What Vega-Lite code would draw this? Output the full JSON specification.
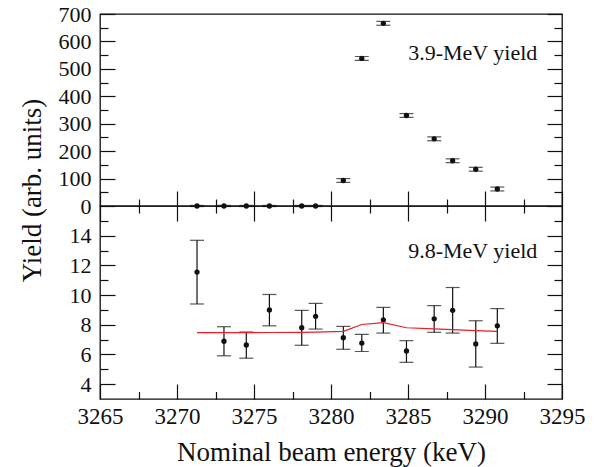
{
  "$schema": "https://vega.github.io/schema/vega-lite/v6.json",
  "padding": {"left": 17, "top": 2, "right": 5, "bottom": 5},
  "spacing": 0,
  "bounds": "flush",
  "datasets": {
    "scan": [
      {"E": 3271.3, "y39": 0, "lo39": -2, "hi39": 2, "y98": 11.55, "lo98": 9.4, "hi98": 13.69, "fit": 7.47},
      {"E": 3273.05, "y39": 0, "lo39": -2, "hi39": 2, "y98": 6.89, "lo98": 5.91, "hi98": 7.87, "fit": 7.47},
      {"E": 3274.5, "y39": 0, "lo39": -2, "hi39": 2, "y98": 6.64, "lo98": 5.75, "hi98": 7.51, "fit": 7.47},
      {"E": 3276.0, "y39": 0, "lo39": -2, "hi39": 2, "y98": 9.0, "lo98": 7.93, "hi98": 10.04, "fit": 7.48},
      {"E": 3278.1, "y39": 0, "lo39": -2, "hi39": 2, "y98": 7.8, "lo98": 6.62, "hi98": 8.97, "fit": 7.49},
      {"E": 3279.0, "y39": 0, "lo39": -2, "hi39": 2, "y98": 8.57, "lo98": 7.71, "hi98": 9.44, "fit": 7.5},
      {"E": 3280.8, "y39": 93, "lo39": 86, "hi39": 100, "y98": 7.13, "lo98": 6.35, "hi98": 7.89, "fit": 7.56},
      {"E": 3282.0, "y39": 538, "lo39": 531, "hi39": 545, "y98": 6.77, "lo98": 6.2, "hi98": 7.35, "fit": 8.02},
      {"E": 3283.4, "y39": 666, "lo39": 659, "hi39": 673, "y98": 8.33, "lo98": 7.44, "hi98": 9.17, "fit": 8.14},
      {"E": 3284.9, "y39": 330, "lo39": 323, "hi39": 337, "y98": 6.24, "lo98": 5.47, "hi98": 6.93, "fit": 7.8},
      {"E": 3286.7, "y39": 245, "lo39": 238, "hi39": 252, "y98": 8.4, "lo98": 7.49, "hi98": 9.29, "fit": 7.72},
      {"E": 3287.9, "y39": 165, "lo39": 158, "hi39": 172, "y98": 8.97, "lo98": 7.44, "hi98": 10.51, "fit": 7.67},
      {"E": 3289.4, "y39": 134, "lo39": 127, "hi39": 141, "y98": 6.71, "lo98": 5.15, "hi98": 8.27, "fit": 7.61},
      {"E": 3290.8, "y39": 62, "lo39": 55, "hi39": 69, "y98": 7.93, "lo98": 6.75, "hi98": 9.09, "fit": 7.55}
    ],
    "labels": [
      {"panel": "top", "label": "3.9-MeV yield", "E": 3293.4, "Y": 532},
      {"panel": "bottom", "label": "9.8-MeV yield", "E": 3293.4, "Y": 12.5}
    ]
  },
  "vconcat": [
    {
      "width": 462,
      "height": 192,
      "resolve": {"axis": {"x": "independent", "y": "independent"}},
      "layer": [
        {
          "data": {"name": "scan"},
          "mark": {"type": "rule", "color": "#111", "strokeWidth": 1.2},
          "encoding": {
            "x": {"field": "E", "type": "quantitative", "scale": {"domain": [3265, 3295], "nice": false, "zero": false},
                  "axis": {"orient": "bottom", "values": [3265, 3270, 3275, 3280, 3285, 3290, 3295], "tickSize": -15, "labels": false, "title": null}},
            "y": {"field": "lo39", "type": "quantitative", "scale": {"domain": [0, 700], "nice": false},
                  "axis": {"orient": "left", "values": [0, 100, 200, 300, 400, 500, 600, 700], "ticks": false, "labelPadding": 9, "format": "d", "title": "Yield (arb. units)", "titleX": -60, "titleY": 176, "titleBaseline": "alphabetic", "titleAlign": "center", "titleAngle": -90}},
            "y2": {"field": "hi39"}
          }
        },
        {
          "data": {"name": "scan"},
          "mark": {"type": "tick", "orient": "horizontal", "size": 14, "thickness": 1.2, "color": "#111"},
          "encoding": {
            "x": {"field": "E", "type": "quantitative",
                  "axis": {"orient": "bottom", "values": [3267.5, 3272.5, 3277.5, 3282.5, 3287.5, 3292.5], "tickSize": -7, "labels": false, "title": null}},
            "y": {"field": "lo39", "type": "quantitative",
                  "axis": {"orient": "left", "values": [0, 100, 200, 300, 400, 500, 600, 700], "tickSize": -15, "labels": false, "title": null}}
          }
        },
        {
          "data": {"name": "scan"},
          "mark": {"type": "tick", "orient": "horizontal", "size": 14, "thickness": 1.2, "color": "#111"},
          "encoding": {
            "x": {"field": "E", "type": "quantitative", "axis": null},
            "y": {"field": "hi39", "type": "quantitative",
                  "axis": {"orient": "left", "values": [50, 150, 250, 350, 450, 550, 650], "tickSize": -8, "labels": false, "title": null}}
          }
        },
        {
          "data": {"name": "scan"},
          "mark": {"type": "circle", "size": 28, "color": "#111", "opacity": 1},
          "encoding": {
            "x": {"field": "E", "type": "quantitative", "axis": null},
            "y": {"field": "y39", "type": "quantitative",
                  "axis": {"orient": "right", "values": [0, 100, 200, 300, 400, 500, 600, 700], "tickSize": -15, "labels": false, "title": null}}
          }
        },
        {
          "data": {"name": "labels"},
          "transform": [{"filter": "datum.panel === 'top'"}],
          "mark": {"type": "text", "align": "right", "baseline": "alphabetic", "fontSize": 22, "color": "#111"},
          "encoding": {
            "text": {"field": "label"},
            "x": {"field": "E", "type": "quantitative", "axis": null},
            "y": {"field": "Y", "type": "quantitative",
                  "axis": {"orient": "right", "values": [50, 150, 250, 350, 450, 550, 650], "tickSize": -8, "labels": false, "title": null}}
          }
        }
      ]
    },
    {
      "width": 462,
      "height": 193,
      "resolve": {"axis": {"x": "independent", "y": "independent"}},
      "layer": [
        {
          "data": {"name": "scan"},
          "mark": {"type": "rule", "color": "#111", "strokeWidth": 1.2},
          "encoding": {
            "x": {"field": "E", "type": "quantitative", "scale": {"domain": [3265, 3295], "nice": false, "zero": false},
                  "axis": {"orient": "bottom", "values": [3265, 3270, 3275, 3280, 3285, 3290, 3295], "ticks": false, "labelPadding": 6, "labelFontSize": 23, "format": "d", "title": "Nominal beam energy (keV)", "titleY": 61, "titleBaseline": "alphabetic"}},
            "y": {"field": "lo98", "type": "quantitative", "scale": {"domain": [3, 16], "nice": false, "zero": false},
                  "axis": {"orient": "left", "values": [4, 6, 8, 10, 12, 14], "ticks": false, "labelPadding": 9, "format": "d", "title": null}},
            "y2": {"field": "hi98"}
          }
        },
        {
          "data": {"name": "scan"},
          "mark": {"type": "tick", "orient": "horizontal", "size": 14, "thickness": 1.2, "color": "#111"},
          "encoding": {
            "x": {"field": "E", "type": "quantitative",
                  "axis": {"orient": "bottom", "values": [3265, 3270, 3275, 3280, 3285, 3290, 3295], "tickSize": -15, "labels": false, "title": null}},
            "y": {"field": "lo98", "type": "quantitative",
                  "axis": {"orient": "left", "values": [4, 6, 8, 10, 12, 14], "tickSize": -15, "labels": false, "title": null}}
          }
        },
        {
          "data": {"name": "scan"},
          "mark": {"type": "tick", "orient": "horizontal", "size": 14, "thickness": 1.2, "color": "#111"},
          "encoding": {
            "x": {"field": "E", "type": "quantitative",
                  "axis": {"orient": "bottom", "values": [3267.5, 3272.5, 3277.5, 3282.5, 3287.5, 3292.5], "tickSize": -7.5, "labels": false, "title": null}},
            "y": {"field": "hi98", "type": "quantitative",
                  "axis": {"orient": "left", "values": [5, 7, 9, 11, 13, 15], "tickSize": -8, "labels": false, "title": null}}
          }
        },
        {
          "data": {"name": "scan"},
          "mark": {"type": "circle", "size": 28, "color": "#111", "opacity": 1},
          "encoding": {
            "x": {"field": "E", "type": "quantitative",
                  "axis": {"orient": "top", "values": [3265, 3270, 3275, 3280, 3285, 3290, 3295], "tickSize": -15, "labels": false, "title": null}},
            "y": {"field": "y98", "type": "quantitative",
                  "axis": {"orient": "right", "values": [4, 6, 8, 10, 12, 14], "tickSize": -15, "labels": false, "title": null}}
          }
        },
        {
          "data": {"name": "scan"},
          "mark": {"type": "line", "color": "#ee1c25", "strokeWidth": 1.2},
          "encoding": {
            "x": {"field": "E", "type": "quantitative",
                  "axis": {"orient": "top", "values": [3267.5, 3272.5, 3277.5, 3282.5, 3287.5, 3292.5], "tickSize": -7, "labels": false, "title": null}},
            "y": {"field": "fit", "type": "quantitative",
                  "axis": {"orient": "right", "values": [5, 7, 9, 11, 13, 15], "tickSize": -8, "labels": false, "title": null}}
          }
        },
        {
          "data": {"name": "labels"},
          "transform": [{"filter": "datum.panel === 'bottom'"}],
          "mark": {"type": "text", "align": "right", "baseline": "alphabetic", "fontSize": 22, "color": "#111"},
          "encoding": {
            "text": {"field": "label"},
            "x": {"field": "E", "type": "quantitative", "axis": null},
            "y": {"field": "Y", "type": "quantitative", "axis": null}
          }
        }
      ]
    }
  ],
  "config": {
    "view": {"stroke": "#111", "strokeWidth": 1.3},
    "font": "Times New Roman",
    "text": {"font": "Times New Roman"},
    "axis": {
      "domain": false,
      "grid": false,
      "tickColor": "#111",
      "tickWidth": 1.2,
      "labelFont": "Times New Roman",
      "titleFont": "Times New Roman",
      "labelFontSize": 22,
      "labelColor": "#111",
      "labelFlush": false,
      "labelOverlap": false,
      "titleFontSize": 27,
      "titleFontWeight": "normal",
      "titleColor": "#111"
    }
  }
}
